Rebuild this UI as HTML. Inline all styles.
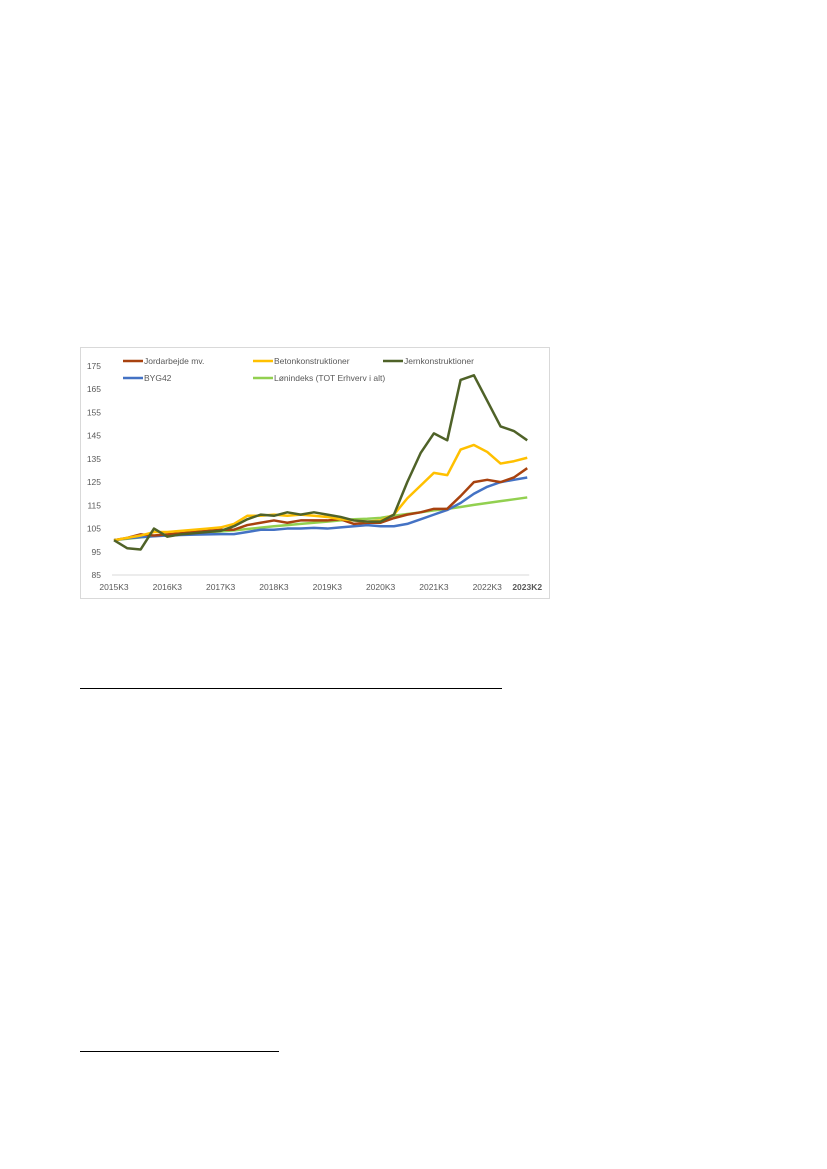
<!DOCTYPE html>
<html><head><meta charset="utf-8"><style>
body{margin:0;background:#fff;width:827px;height:1169px;position:relative;overflow:hidden;font-family:"Liberation Sans",sans-serif}
.hr{position:absolute;height:1px;background:#000}
</style></head><body>
<svg style="position:absolute;left:0;top:0" width="827" height="1169">
<rect x="80.5" y="347.5" width="469" height="251" fill="#fff" stroke="#d9d9d9"/>
<g id="g"></g>
</svg>
<div class="hr" style="left:80px;top:688px;width:422px"></div>
<div class="hr" style="left:80px;top:1051px;width:199px"></div>
<script>
const categories=[];for(let y=2015,q=3;categories.length<32;){categories.push(y+"K"+q);q++;if(q>4){q=1;y++;}}
const xTickLabels=["2015K3","2016K3","2017K3","2018K3","2019K3","2020K3","2021K3","2022K3","2023K2"];
const yTicks=[85,95,105,115,125,135,145,155,165,175];
const jord=[100,101,102.5,102,102.5,103,103.5,104,104.5,104.5,106.5,107.5,108.5,107.5,108.5,108.5,108.5,109,107,107.5,107.5,109.5,111,112,113.5,113.5,119,125,126,125,127,131];
const beton=[100,101,102,103.5,103.5,104,104.5,105,105.5,107,110.5,110.5,111,110.5,111,110.5,110,109,108.5,108,108.5,111,118,123.5,129,128,139,141,138,133,134,135.5];
const jern=[100,96.5,96,105,101.5,102.5,103,103.5,104,106,109,111,110.5,112,111,112,111,110,108.5,108,108,111,125,137.5,146,143,169,171,160,149,147,143];
const byg=[100,100.8,101.3,101.7,102,102.2,102.4,102.5,102.6,102.6,103.5,104.5,104.5,105,105,105.3,105,105.5,106,106.5,106,106,107,109,111,113,116,120,123,125,126,127];
const lon=[100,100.6,101.2,101.8,102.2,102.6,103,103.4,103.8,104.2,104.8,105.4,106,106.5,107,107.5,108,108.5,109,109.2,109.6,110.5,111.3,112,112.8,113.5,114.3,115.2,116,116.8,117.6,118.4];
const X=i=>114+i*13.33, Y=v=>575-(v-85)*2.322;
const g=document.getElementById('g'),NS='http://www.w3.org/2000/svg';
function el(t,a){const e=document.createElementNS(NS,t);for(const k in a)e.setAttribute(k,a[k]);g.appendChild(e);return e;}
const ax=el('line',{x1:X(0)-2,x2:X(31)+2,y1:Y(85),y2:Y(85),stroke:'#d9d9d9'});


yTicks.forEach(v=>{const t=el('text',{x:101,y:Y(v)+3,'text-anchor':'end','font-size':'8.5',fill:'#595959'});t.textContent=v;

});
xTickLabels.forEach(l=>{const i=categories.indexOf(l);const t=el('text',{x:X(i),y:590,'text-anchor':'middle','font-size':'8.5',fill:'#595959','font-weight':l=='2023K2'?'bold':'normal'});t.textContent=l;

});
const series=[["lonindeks",lon,'#92d050'],["byg42",byg,'#4472c4'],["jordarbejde",jord,'#a8420f'],["betonkonstruktioner",beton,'#ffc000'],["jernkonstruktioner",jern,'#4f6228']];
series.forEach(([n,d,c])=>{const p=el('polyline',{points:d.map((v,i)=>X(i)+','+Y(v)).join(' '),fill:'none',stroke:c,'stroke-width':'2.5','stroke-linejoin':'round'});

});
const legend=[["Jordarbejde mv.",'#a8420f',123,361],["Betonkonstruktioner",'#ffc000',253,361],["Jernkonstruktioner",'#4f6228',383,361],["BYG42",'#4472c4',123,378],["Lønindeks (TOT Erhverv i alt)",'#92d050',253,378]];
legend.forEach(([l,c,x,y])=>{const ln=el('line',{x1:x,x2:x+20,y1:y,y2:y,stroke:c,'stroke-width':'2.5'});


const t=el('text',{x:x+21,y:y+3,'font-size':'8.5',fill:'#595959'});t.textContent=l;

});
</script>
</body></html>
